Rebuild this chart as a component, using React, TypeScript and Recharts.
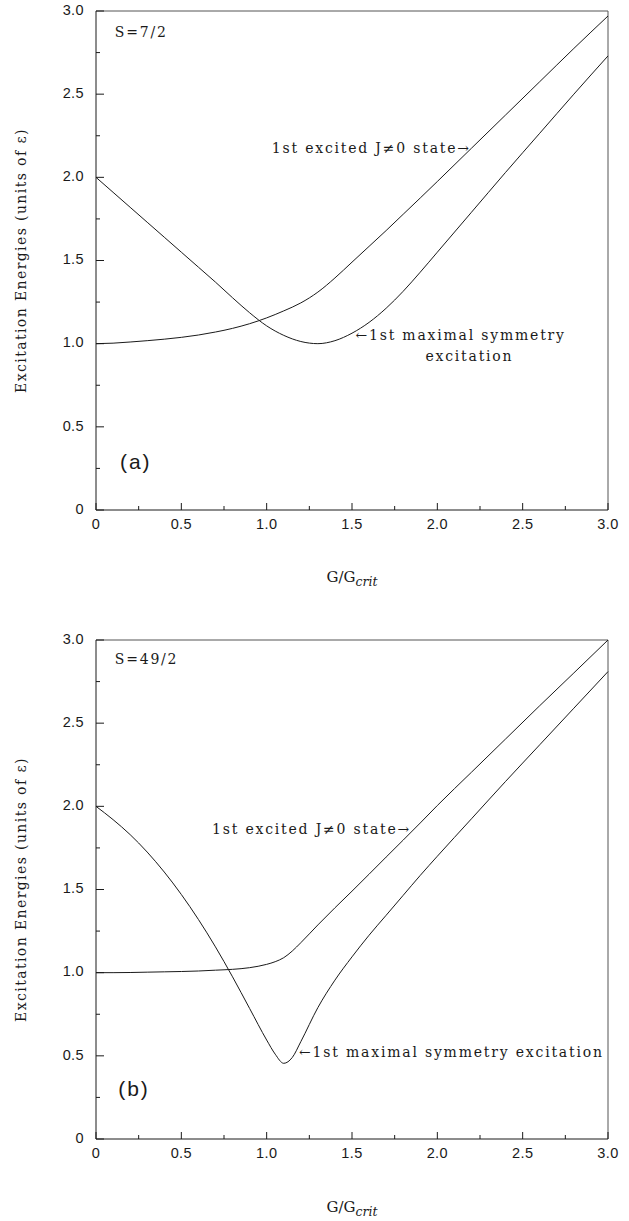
import React from "react";
import {
  LineChart,
  Line,
  XAxis,
  YAxis,
  ReferenceLine,
  ReferenceDot,
} from "recharts";

// G/G_crit sample points and excitation energies (units of epsilon)
const gRatioA = [0, 0.1, 0.2, 0.3, 0.4, 0.5, 0.6, 0.7, 0.8, 0.9, 1.0, 1.1, 1.2, 1.3, 1.4, 1.5, 1.6, 1.7, 1.8, 1.9, 2.0, 2.2, 2.4, 2.6, 2.8, 3.0];
const maxSymA = [2.0, 1.91, 1.82, 1.73, 1.64, 1.55, 1.46, 1.37, 1.276, 1.186, 1.107, 1.05, 1.013, 1.0, 1.018, 1.063, 1.128, 1.213, 1.315, 1.43, 1.55, 1.79, 2.03, 2.265, 2.5, 2.73];
const jExcA = [1.0, 1.003, 1.01, 1.018, 1.027, 1.038, 1.052, 1.07, 1.092, 1.12, 1.155, 1.197, 1.245, 1.31, 1.395, 1.49, 1.585, 1.68, 1.778, 1.876, 1.975, 2.175, 2.375, 2.575, 2.775, 2.97];

const gRatioB = [0, 0.1, 0.2, 0.3, 0.4, 0.5, 0.6, 0.7, 0.8, 0.9, 1.0, 1.05, 1.1, 1.15, 1.2, 1.3, 1.4, 1.5, 1.6, 1.7, 1.8, 1.9, 2.0, 2.2, 2.4, 2.6, 2.8, 3.0];
const maxSymB = [2.0, 1.92, 1.83, 1.725, 1.605, 1.47, 1.32, 1.155, 0.975, 0.785, 0.595, 0.51, 0.455, 0.49, 0.585, 0.79, 0.955, 1.095, 1.225, 1.345, 1.465, 1.585, 1.7, 1.925, 2.15, 2.37, 2.59, 2.81];
const jExcB = [1.0, 1.0, 1.001, 1.003, 1.005, 1.007, 1.01, 1.015, 1.02, 1.03, 1.05, 1.066, 1.09, 1.13, 1.18, 1.287, 1.39, 1.49, 1.592, 1.695, 1.797, 1.9, 2.005, 2.205, 2.405, 2.605, 2.802, 3.0];

const xTicks = [0, 0.25, 0.5, 0.75, 1.0, 1.25, 1.5, 1.75, 2.0, 2.25, 2.5, 2.75, 3.0];
const yTicks = [0, 0.25, 0.5, 0.75, 1.0, 1.25, 1.5, 1.75, 2.0, 2.25, 2.5, 2.75, 3.0];

const rowsA = gRatioA.map((g, i) => ({ g, maxSym: maxSymA[i], jExc: jExcA[i] }));
const rowsB = gRatioB.map((g, i) => ({ g, maxSym: maxSymB[i], jExc: jExcB[i] }));

const INK = "#1a1a1a";
const SANS = "'Liberation Sans', Arial, sans-serif";
const SERIF = "'DejaVu Serif', 'Liberation Serif', serif";

const isMajor = (v: number) => Math.abs(v * 2 - Math.round(v * 2)) < 1e-6;
const fmt = (v: number) => (v === 0 ? "0" : v.toFixed(1));

const XTick = (props: any) => {
  const { x, y, payload } = props;
  const v = payload.value as number;
  const major = isMajor(v);
  return (
    <g>
      <line x1={x} x2={x} y1={y} y2={y - (major ? 7 : 4)} stroke={INK} strokeWidth={1} />
      {major && (
        <text x={x} y={y + 15} textAnchor="middle" dominantBaseline="middle" fontFamily={SANS} fontSize={14.5} letterSpacing={0.4} fill={INK}>
          {fmt(v)}
        </text>
      )}
    </g>
  );
};

const YTick = (props: any) => {
  const { x, y, payload } = props;
  const v = payload.value as number;
  const major = isMajor(v);
  return (
    <g>
      <line x1={x} x2={x + (major ? 8 : 4)} y1={y} y2={y} stroke={INK} strokeWidth={1} />
      {major && (
        <text x={x - 12} y={y} textAnchor="end" dominantBaseline="middle" fontFamily={SANS} fontSize={14.5} letterSpacing={0.4} fill={INK}>
          {fmt(v)}
        </text>
      )}
    </g>
  );
};

const yTitle = {
  content: (p: any) => {
    const vb = p.viewBox;
    const cx = 22;
    const cy = vb.y + vb.height / 2;
    return (
      <text
        x={cx}
        y={cy}
        transform={`rotate(-90 ${cx} ${cy})`}
        textAnchor="middle"
        dominantBaseline="middle"
        fontFamily={SERIF}
        fontSize={14}
        letterSpacing={1.4}
        fill={INK}
      >
        Excitation Energies (units of ε)
      </text>
    );
  },
};

const xTitle = (dy: number) => ({
  content: (p: any) => {
    const vb = p.viewBox;
    const cx = vb.x + vb.width / 2;
    const cy = vb.y + dy;
    return (
      <text x={cx} y={cy} textAnchor="middle" dominantBaseline="middle" fontFamily={SERIF} fontSize={15} fill={INK}>
        G/G
        <tspan fontSize={12.5} fontStyle="italic" dy={4}>
          crit
        </tspan>
      </text>
    );
  },
});

const note = (text: string, size = 14, spacing = 1.8, family = SERIF) => ({
  content: (p: any) => {
    const vb = p.viewBox;
    return (
      <text
        x={vb.x}
        y={vb.y}
        textAnchor="start"
        dominantBaseline="middle"
        fontFamily={family}
        fontSize={size}
        letterSpacing={spacing}
        fill={INK}
      >
        {text}
      </text>
    );
  },
});

type Note = { x: number; y: number; text: string; size?: number; spacing?: number; family?: string };

const Panel = ({
  rows,
  width,
  height,
  top,
  bottom,
  titleOffset,
  notes,
}: {
  rows: any[];
  width: number;
  height: number;
  top: number;
  bottom: number;
  titleOffset: number;
  notes: Note[];
}) => (
  <LineChart width={width} height={height} data={rows} margin={{ top, right: 21, left: 0, bottom: 0 }}>
    <XAxis
      dataKey="g"
      type="number"
      domain={[0, 3]}
      ticks={xTicks}
      interval={0}
      tickSize={0}
      tickMargin={0}
      tickLine={false}
      tick={<XTick />}
      axisLine={{ stroke: INK, strokeWidth: 1 }}
      height={bottom}
      label={xTitle(titleOffset)}
    />
    <YAxis
      type="number"
      domain={[0, 3]}
      ticks={yTicks}
      interval={0}
      tickSize={0}
      tickMargin={0}
      tickLine={false}
      tick={<YTick />}
      axisLine={{ stroke: INK, strokeWidth: 1 }}
      width={96}
      label={yTitle}
    />
    <ReferenceLine y={3} stroke="#555" strokeWidth={1} />
    <ReferenceLine x={3} stroke="#555" strokeWidth={1} />
    <Line type="monotone" dataKey="maxSym" stroke={INK} strokeWidth={1} dot={false} isAnimationActive={false} />
    <Line type="monotone" dataKey="jExc" stroke={INK} strokeWidth={1} dot={false} isAnimationActive={false} />
    {notes.map((n, i) => (
      <ReferenceDot
        key={i}
        x={n.x}
        y={n.y}
        r={0}
        fill="none"
        stroke="none"
        label={note(n.text, n.size, n.spacing, n.family)}
      />
    ))}
  </LineChart>
);

const notesA: Note[] = [
  { x: 0.11, y: 2.87, text: "S=7/2", size: 14, spacing: 1.8 },
  { x: 1.03, y: 2.17, text: "1st excited J≠0 state→" },
  { x: 1.52, y: 1.045, text: "←1st maximal symmetry" },
  { x: 1.93, y: 0.92, text: "excitation" },
  { x: 0.14, y: 0.28, text: "(a)", size: 21, spacing: 2, family: SANS },
];

const notesB: Note[] = [
  { x: 0.11, y: 2.88, text: "S=49/2", size: 14, spacing: 1.8 },
  { x: 0.68, y: 1.86, text: "1st excited J≠0 state→" },
  { x: 1.19, y: 0.52, text: "←1st maximal symmetry excitation" },
  { x: 0.13, y: 0.29, text: "(b)", size: 21, spacing: 2, family: SANS },
];

export default function App() {
  return (
    <div style={{ position: "absolute", left: 0, top: 0, width: 629, height: 1221, background: "#fff" }}>
      <div style={{ position: "absolute", left: 0, top: 0 }}>
        <Panel rows={rowsA} width={629} height={600} top={11} bottom={90} titleOffset={68} notes={notesA} />
      </div>
      <div style={{ position: "absolute", left: 0, top: 600 }}>
        <Panel rows={rowsB} width={629} height={621} top={40} bottom={82} titleOffset={69} notes={notesB} />
      </div>
    </div>
  );
}
